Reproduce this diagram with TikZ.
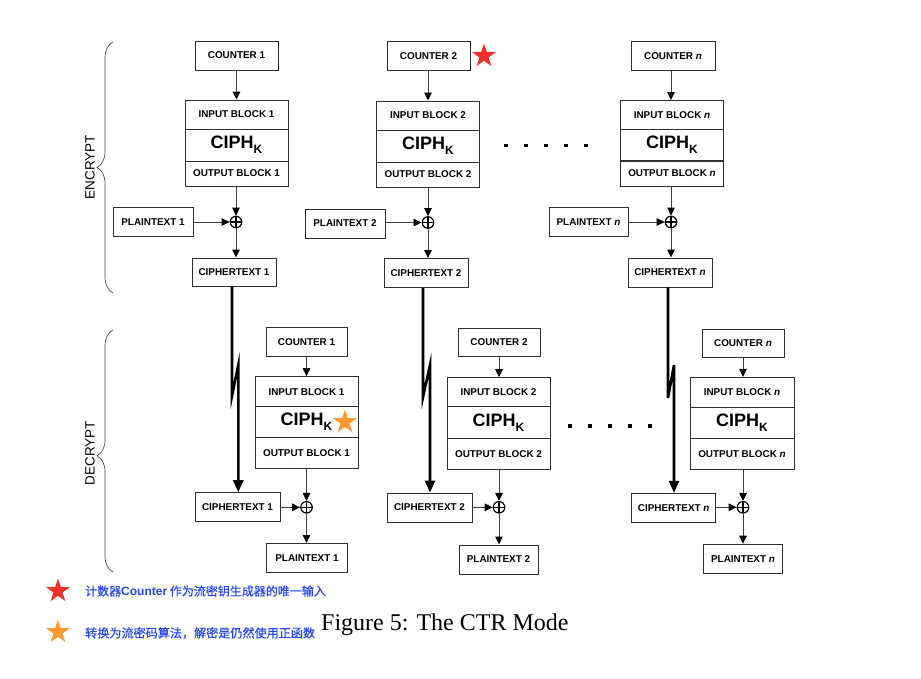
\documentclass[tikz,border=0pt]{standalone}
\usepackage{fontspec}
\setmainfont{Liberation Sans}
\newfontfamily\cjkfont[FakeBold=0.5]{Noto Sans CJK SC}
\newfontfamily\capfont{Liberation Serif}
\usetikzlibrary{arrows.meta,shapes.geometric,calc,decorations.pathreplacing}
\definecolor{boxline}{HTML}{303030}
\definecolor{conline}{HTML}{404040}
\definecolor{legblue}{HTML}{2446F5}
\definecolor{starred}{HTML}{F0302A}
\definecolor{starorange}{HTML}{FF9A30}
\newcommand{\ciphK}{{\fontsize{18}{19}\selectfont\bfseries CIPH\raisebox{-5pt}{\fontsize{12}{12}\selectfont\bfseries K}}}
\begin{document}
\begin{tikzpicture}[x=1pt,y=-1pt,
  box/.style={draw=boxline, line width=1pt, fill=white, inner sep=0pt,
    font=\fontsize{9.9}{11}\selectfont\bfseries, minimum height=29pt},
  xor/.style={circle, draw=black, line width=1.2pt, minimum size=11.5pt, inner sep=0pt,
    path picture={\draw[line width=1.2pt] (path picture bounding box.north) -- (path picture bounding box.south)
      (path picture bounding box.west) -- (path picture bounding box.east);}},
  arr/.style={draw=conline, line width=1pt, -{Triangle[length=8pt,width=7.5pt,color=black]}},
  thk/.style={draw=black, line width=2.6pt, -{Triangle[length=12pt,width=10pt]}},
  brc/.style={draw=black!70, line width=0.7pt, decorate, decoration={brace, amplitude=16pt}},
  side/.style={font=\fontsize{13.5}{14}\selectfont, rotate=90},
  star5/.style={star, star points=5, star point ratio=2.6, inner sep=0pt, minimum size=25pt, draw=none},
  dot/.style={fill=black}
]
\useasboundingbox (0,0) rectangle (921,678);

% ================= ENCRYPT column 1
\node[box, minimum width=83pt] (c1) at (236.5,55.5) {COUNTER 1};
\node[box, minimum width=103pt, minimum height=29pt] (ib1) at (236.5,114.5) {INPUT BLOCK 1};
\node[box, minimum width=103pt, minimum height=32pt] (ci1) at (236.5,145) {\ciphK};
\node[box, minimum width=103pt, minimum height=25pt] (ob1) at (236.5,173.5) {OUTPUT BLOCK 1};
\node[xor] (x1) at (236,222) {};
\node[box, minimum width=80pt] (p1) at (153,222) {PLAINTEXT 1};
\node[box, minimum width=84pt, minimum height=28pt] (ct1) at (234,272) {CIPHERTEXT 1};
\draw[arr] (c1.south |- c1.south) -- (c1.south |- ib1.north);
\draw[arr] (ob1.south -| x1) -- (x1.north);
\draw[arr] (p1.east |- x1) -- (x1.west);
\draw[arr] (x1.south) -- (x1.south |- ct1.north);

% ================= ENCRYPT column 2
\node[box, minimum width=83pt] (c2) at (428.5,56) {COUNTER 2};
\node[box, minimum width=103pt, minimum height=29pt] (ib2) at (428,115.5) {INPUT BLOCK 2};
\node[box, minimum width=103pt, minimum height=32pt] (ci2) at (428,146) {\ciphK};
\node[box, minimum width=103pt, minimum height=25pt] (ob2) at (428,174.5) {OUTPUT BLOCK 2};
\node[xor] (x2) at (428,222.5) {};
\node[box, minimum width=80pt] (p2) at (345,223.5) {PLAINTEXT 2};
\node[box, minimum width=84pt] (ct2) at (426,273) {CIPHERTEXT 2};
\draw[arr] (c2.south -| ib2) -- (ib2.north);
\draw[arr] (ob2.south -| x2) -- (x2.north);
\draw[arr] (p2.east |- x2) -- (x2.west);
\draw[arr] (x2.south) -- (x2.south |- ct2.north);
\node[star5, fill=starred] (rs1) at (484,56) {};

% ================= ENCRYPT column n
\node[box, minimum width=84pt] (cn) at (673,56) {COUNTER \textit{n}};
\node[box, minimum width=103pt, minimum height=29pt] (ibn) at (672,115) {INPUT BLOCK \textit{n}};
\node[box, minimum width=103pt, minimum height=31.5pt] (cin) at (672,145.2) {\ciphK};
\node[box, minimum width=103pt, minimum height=25pt] (obn) at (672,173.5) {OUTPUT BLOCK \textit{n}};
\node[xor] (xn) at (671,222) {};
\node[box, minimum width=79pt] (pn) at (588.5,222.2) {PLAINTEXT \textit{n}};
\node[box, minimum width=84pt] (ctn) at (670,272.5) {CIPHERTEXT \textit{n}};
\draw[arr] (cn.south -| xn) -- (xn |- ibn.north);
\draw[arr] (obn.south -| xn) -- (xn.north);
\draw[arr] (pn.east |- xn) -- (xn.west);
\draw[arr] (xn.south) -- (xn.south |- ctn.north);

% dots encrypt
\foreach \i in {506,526,546,566,586} \fill[dot] (\i-1.8,143.8) rectangle (\i+1.8,147.4);

% ================= DECRYPT column 1
\node[box, minimum width=81pt] (dc1) at (306.5,342) {COUNTER 1};
\node[box, minimum width=103pt, minimum height=30pt] (dib1) at (306.5,391.7) {INPUT BLOCK 1};
\node[box, minimum width=103pt, minimum height=31pt] (dci1) at (306.5,422.2) {\ciphK};
\node[box, minimum width=103pt, minimum height=30.6pt] (dob1) at (306.5,453) {OUTPUT BLOCK 1};
\node[xor] (dx1) at (306.5,507.3) {};
\node[box, minimum width=85pt] (dct1) at (237.5,507.2) {CIPHERTEXT 1};
\node[box, minimum width=81pt] (dp1) at (307,558) {PLAINTEXT 1};
\draw[arr] (dc1.south -| dx1) -- (dx1 |- dib1.north);
\draw[arr] (dob1.south -| dx1) -- (dx1.north);
\draw[arr] (dct1.east |- dx1) -- (dx1.west);
\draw[arr] (dx1.south) -- (dx1.south |- dp1.north);
\node[star5, fill=starorange] (os1) at (345,422) {};

% ================= DECRYPT column 2
\node[box, minimum width=82pt, minimum height=28pt] (dc2) at (499,342) {COUNTER 2};
\node[box, minimum width=103pt, minimum height=29pt] (dib2) at (498.5,392.2) {INPUT BLOCK 2};
\node[box, minimum width=103pt, minimum height=31.6pt] (dci2) at (498.5,422.5) {\ciphK};
\node[box, minimum width=103pt, minimum height=31pt] (dob2) at (498.5,453.8) {OUTPUT BLOCK 2};
\node[xor] (dx2) at (499,507.3) {};
\node[box, minimum width=85pt] (dct2) at (429.5,507.5) {CIPHERTEXT 2};
\node[box, minimum width=79pt] (dp2) at (498.5,559.5) {PLAINTEXT 2};
\draw[arr] (dc2.south -| dx2) -- (dx2 |- dib2.north);
\draw[arr] (dob2.south -| dx2) -- (dx2.north);
\draw[arr] (dct2.east |- dx2) -- (dx2.west);
\draw[arr] (dx2.south) -- (dx2.south |- dp2.north);

% ================= DECRYPT column n
\node[box, minimum width=82pt, minimum height=28pt] (dcn) at (743,343.3) {COUNTER \textit{n}};
\node[box, minimum width=104pt, minimum height=30.4pt] (dibn) at (742,392.5) {INPUT BLOCK \textit{n}};
\node[box, minimum width=104pt, minimum height=30.6pt] (dcin) at (742,423) {\ciphK};
\node[box, minimum width=104pt, minimum height=30.7pt] (dobn) at (742,453.7) {OUTPUT BLOCK \textit{n}};
\node[xor] (dxn) at (743,507.3) {};
\node[box, minimum width=84pt] (dctn) at (673.7,507.8) {CIPHERTEXT \textit{n}};
\node[box, minimum width=79pt] (dpn) at (743,558.7) {PLAINTEXT \textit{n}};
\draw[arr] (dcn.south -| dxn) -- (dxn |- dibn.north);
\draw[arr] (dobn.south -| dxn) -- (dxn.north);
\draw[arr] (dctn.east |- dxn) -- (dxn.west);
\draw[arr] (dxn.south) -- (dxn.south |- dpn.north);

% dots decrypt
\foreach \i in {570,590,610,630,650} \fill[dot] (\i-1.8,424.2) rectangle (\i+1.8,427.8);

% ================= thick broken lines
\coordinate (z1a) at (232,396);
\coordinate (z1b) at (238.3,365);
\coordinate (z2a) at (423,397);
\coordinate (z2b) at (430,365);
\coordinate (zna) at (668,398);
\coordinate (znb) at (674,365);
\draw[thk] (ct1.south -| z1a) -- (z1a) -- (z1b) -- (z1b |- dct1.north);
\draw[thk] (ct2.south -| z2a) -- (z2a) -- (z2b) -- (z2b |- dct2.north);
\draw[thk] (ctn.south -| zna) -- (zna) -- (znb) -- (znb |- dctn.north);

% ================= braces and labels
\draw[brc] (113,293) -- (113,42);
\draw[brc, decoration={brace, amplitude=16pt, aspect=0.48}] (113,572) -- (113,330);
\node[side] (enc) at (90,167) {ENCRYPT};
\node[side] (dec) at (90,453) {DECRYPT};

% ================= legend and caption
\node[star5, fill=starred] (ls1) at (58,591) {};
\node[star5, fill=starorange] (ls2) at (58,632) {};
\node[anchor=west, inner sep=0pt, text=legblue, font=\cjkfont\fontsize{12}{13}\selectfont] (lt1) at (85,591)
  {计数器{\fontspec{Liberation Sans}\bfseries Counter} 作为流密钥生成器的唯一输入};
\node[anchor=west, inner sep=0pt, text=legblue, font=\cjkfont\fontsize{12.1}{13}\selectfont] (lt2) at (85,633)
  {转换为流密码算法，解密是仍然使用正函数};
\node[anchor=base west, inner sep=0pt, font=\capfont\fontsize{24}{26}\selectfont] (cap) at (321,630)
  {Figure 5: The CTR Mode};
\end{tikzpicture}
\end{document}
